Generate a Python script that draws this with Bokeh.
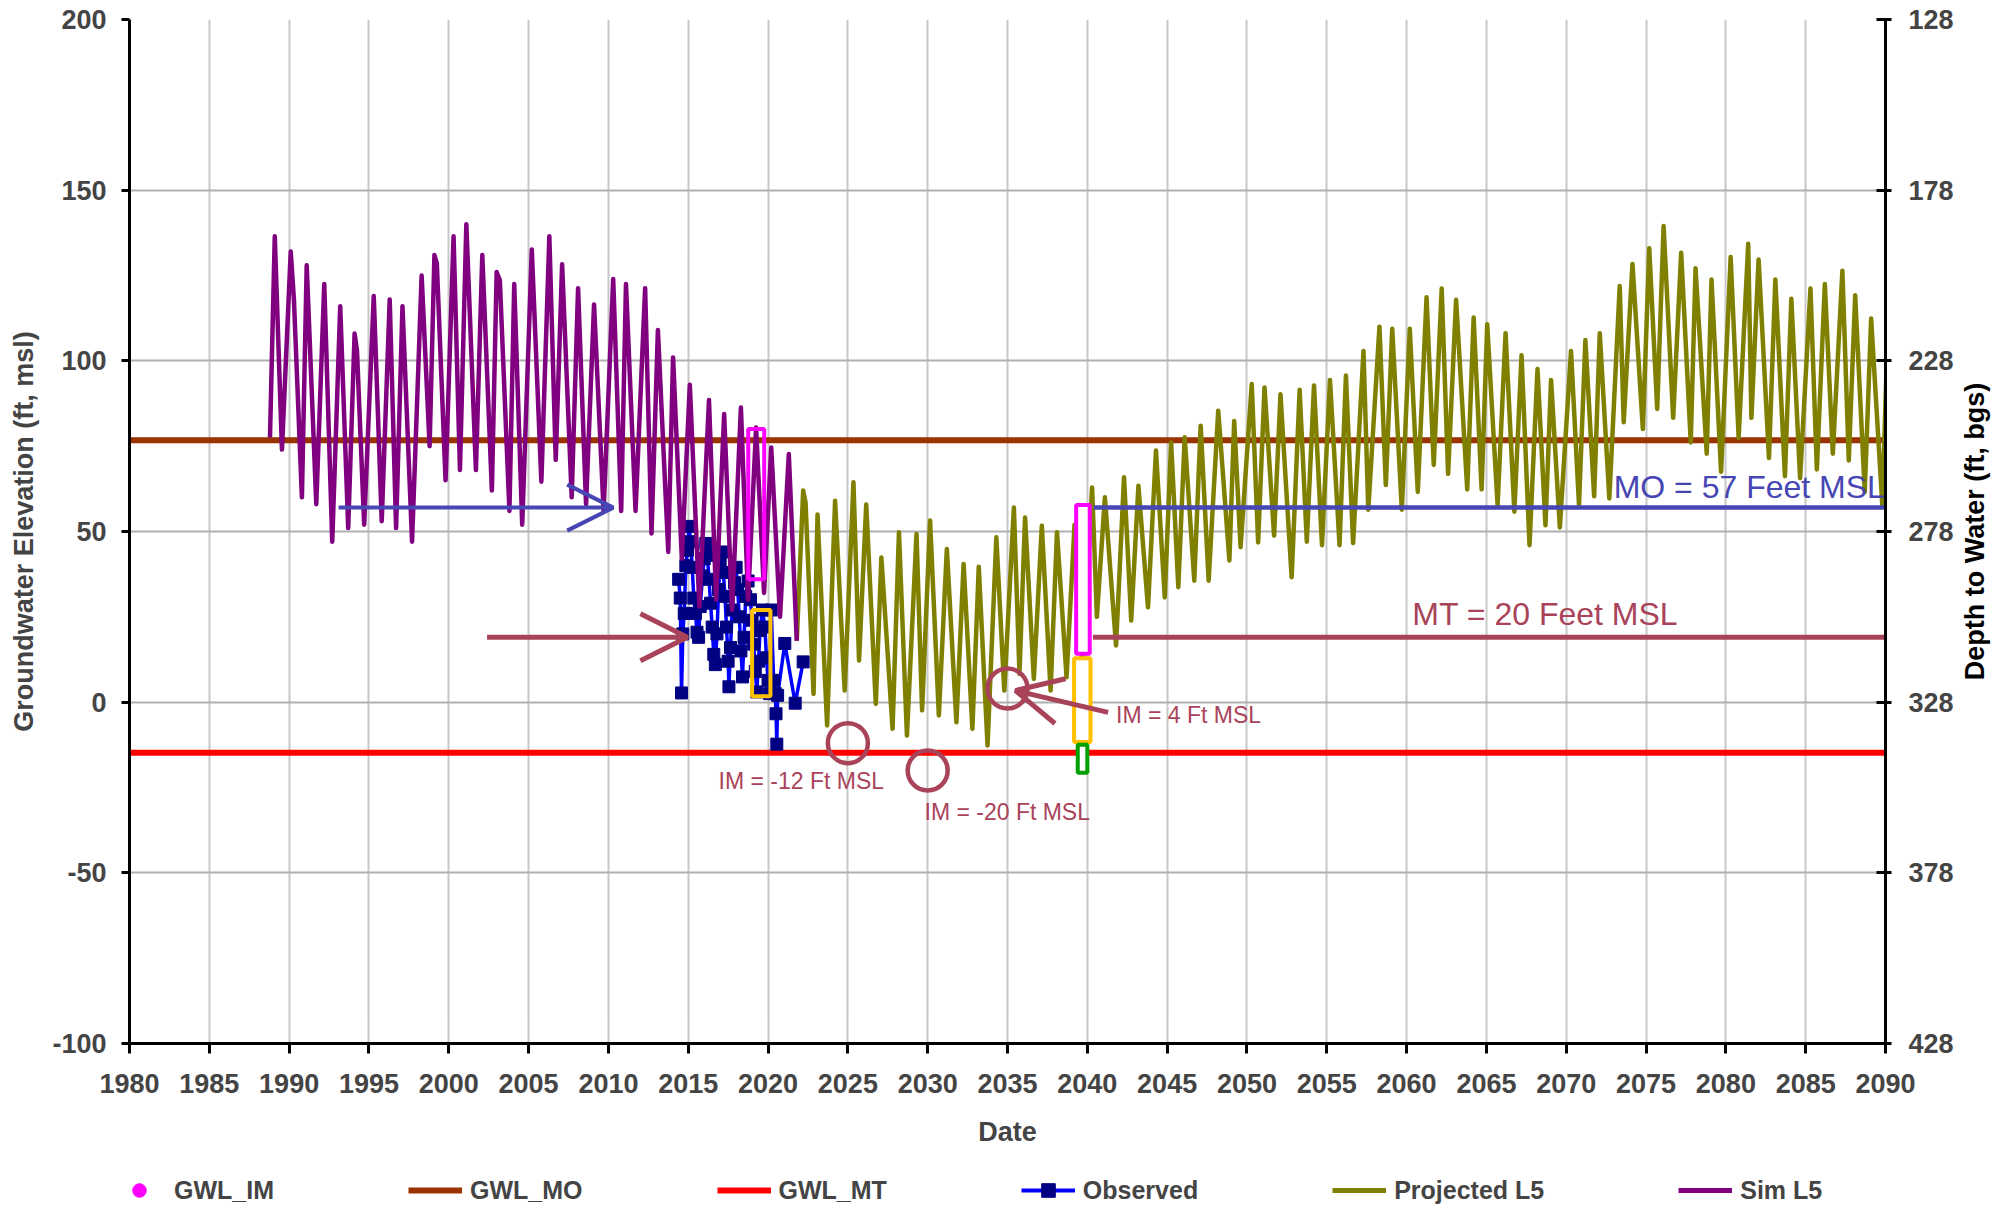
import math
from bokeh.plotting import figure
from bokeh.layouts import row, column
from bokeh.models import (Range1d, LinearAxis, FixedTicker, Legend, LegendItem,
                          Label, Arrow, OpenHead)
from bokeh.embed import file_html
from bokeh.resources import INLINE

# ---------------- data ----------------
sim_dates = [1988.8, 1989.1, 1989.55, 1990.1, 1990.3, 1990.8, 1991.1, 1991.7, 1992.2, 1992.7,
             1993.2, 1993.7, 1994.1, 1994.25, 1994.7, 1995.3, 1995.8, 1996.3, 1996.7, 1997.1,
             1997.7, 1998.3, 1998.8, 1999.1, 1999.25, 1999.8, 2000.3, 2000.7, 2001.1, 2001.7,
             2002.1, 2002.7, 2003.0, 2003.2, 2003.8, 2004.1, 2004.6, 2005.2, 2005.8, 2006.3,
             2006.7, 2007.1, 2007.7, 2008.1, 2008.6, 2009.1, 2009.7, 2010.3, 2010.8, 2011.1,
             2011.7, 2012.3, 2012.7, 2013.1, 2013.75, 2014.05, 2014.6, 2015.1, 2015.7, 2016.3,
             2016.75, 2017.25, 2017.75, 2018.3, 2018.75, 2019.25, 2019.75, 2020.2, 2020.75, 2021.3,
             2021.8]
sim_vals = [77.5, 136.5, 74, 132, 118, 60, 128, 58, 122.5, 47,
            116, 51, 108, 103, 52, 119, 53, 118, 51, 116,
            47, 125, 75, 131, 128.6, 65, 136.5, 68, 140, 68,
            131, 62, 126, 123.6, 56, 122.5, 52, 132.6, 64.6, 136.5,
            71, 128.3, 60, 121.3, 58, 116.5, 56, 124, 56, 122.5,
            56, 121.3, 49.4, 109, 44, 101, 42, 93, 28, 88.5,
            30, 84.4, 27, 86.3, 30, 80.5, 32, 74.6, 25, 72.7,
            18]

proj_dates = [2021.8, 2022.2, 2022.35, 2022.85, 2023.1, 2023.7, 2024.2, 2024.8, 2025.35, 2025.7,
              2026.15, 2026.75, 2027.1, 2027.8, 2028.2, 2028.7, 2029.3, 2029.65, 2030.15, 2030.7,
              2031.2, 2031.8, 2032.25, 2032.8, 2033.2, 2033.75, 2034.3, 2034.8, 2035.4, 2035.75,
              2036.1, 2036.65, 2037.15, 2037.7, 2038.1, 2038.7, 2039.2, 2039.7, 2040.3, 2040.6,
              2041.1, 2041.8, 2042.3, 2042.75, 2043.2, 2043.8, 2044.3, 2044.85, 2045.25, 2045.7,
              2046.1, 2046.7, 2047.1, 2047.6, 2048.2, 2048.9, 2049.2, 2049.6, 2050.3, 2050.7,
              2051.1, 2051.7, 2052.1, 2052.8, 2053.3, 2053.75, 2054.2, 2054.7, 2055.2, 2055.8,
              2056.2, 2056.65, 2057.3, 2057.6, 2058.3, 2058.7, 2059.1, 2059.7, 2060.2, 2060.7,
              2061.25, 2061.7, 2062.2, 2062.6, 2063.1, 2063.8, 2064.2, 2064.7, 2065.05, 2065.7,
              2066.2, 2066.75, 2067.2, 2067.7, 2068.2, 2068.7, 2069.05, 2069.6, 2070.3, 2070.8,
              2071.2, 2071.75, 2072.1, 2072.7, 2073.35, 2073.6, 2074.15, 2074.8, 2075.2, 2075.7,
              2076.1, 2076.7, 2077.2, 2077.8, 2078.1, 2078.8, 2079.1, 2079.7, 2080.3, 2080.8,
              2081.4, 2081.6, 2082.05, 2082.7, 2083.1, 2083.7, 2084.1, 2084.65, 2085.3, 2085.7,
              2086.2, 2086.7, 2087.3, 2087.7, 2088.1, 2088.7, 2089.1, 2089.8, 2090.05]
proj_vals = [18, 62, 58.5, 2.4, 55, -6.8, 59, 3.4, 64.4, 12.2,
             57.9, -0.5, 42.4, -7.8, 49.8, -9.8, 49.3, -2.4, 53.2, -3.9,
             44.9, -5.9, 40.5, -7.8, 39.7, -12.7, 48.3, 3.4, 57, 8.3,
             54.1, 6.8, 51.7, 3.4, 49.8, 7.3, 52, 10, 62.9, 25,
             60, 16.6, 65.9, 23.9, 63.4, 27.8, 73.7, 30.7, 76.1, 33.7,
             77.6, 35.6, 81, 35.6, 85.4, 41.5, 82.4, 45.4, 93.2, 46.8,
             92.2, 48.8, 90.2, 36.6, 91.5, 47, 92.8, 46, 94.4, 46,
             95.7, 46.6, 102.9, 56.4, 110, 63.6, 109.4, 56.4, 109.4, 61.6,
             118.6, 69.5, 121.2, 66.9, 117.9, 62.3, 112.7, 62.3, 110.7, 57.7,
             108.1, 55.8, 101.6, 46, 97.6, 51.8, 94.4, 51.2, 102.9, 57.7,
             106.1, 60.3, 108.1, 59.7, 121.9, 82, 128.4, 80, 133, 85.9,
             139.5, 83.3, 131.7, 76.1, 127.1, 72.8, 123.8, 67.5, 130.4, 77.4,
             134.3, 83.3, 129.7, 71.5, 123.8, 66.2, 118.2, 65.6, 121.2, 68.2,
             122.5, 72.8, 126.4, 70.8, 119.2, 61.6, 112.4, 57.7, 95]

obs_dates = [2014.40, 2014.50, 2014.58, 2014.66, 2014.75, 2014.85, 2014.95, 2015.05, 2015.15, 2015.25,
             2015.35, 2015.45, 2015.55, 2015.65, 2015.75, 2015.90, 2016.00, 2016.10, 2016.20, 2016.30,
             2016.40, 2016.50, 2016.60, 2016.70, 2016.80, 2016.90, 2017.00, 2017.10, 2017.20, 2017.30,
             2017.40, 2017.50, 2017.55, 2017.65, 2017.75, 2017.90, 2018.00, 2018.10, 2018.20, 2018.30,
             2018.40, 2018.50, 2018.60, 2018.75, 2018.90, 2019.00, 2019.10, 2019.20, 2019.30, 2019.40,
             2019.50, 2019.65, 2019.80, 2019.90, 2020.00, 2020.10, 2020.20, 2020.35, 2020.45, 2020.50,
             2020.55, 2020.60, 2021.05, 2021.70, 2022.20]
obs_vals = [36.0, 30.5, 2.7, 20.0, 26.0, 40.0, 44.5, 51.5, 47.0, 39.5,
            30.5, 26.0, 20.5, 19.0, 28.0, 37.0, 42.0, 46.5, 43.0, 36.0,
            29.0, 22.0, 14.0, 11.0, 20.0, 33.0, 41.0, 44.0, 38.0, 31.0,
            22.0, 12.0, 4.5, 16.0, 27.0, 35.0, 39.5, 33.0, 25.0, 15.0,
            7.4, 19.0, 31.0, 35.5, 30.0, 24.0, 17.0, 9.0, 3.0, 12.0,
            21.0, 27.0, 22.0, 13.0, 6.4, 2.5, 27.0, 6.4, 2.5, -3.4,
            -12.3, 2.0, 17.2, -0.3, 11.8]

gwl_dates = [1979.0, 2091.0]
gwl_mo = [76.7, 76.7]
gwl_mt = [-14.8, -14.8]

x_ticks = [1980, 1985, 1990, 1995, 2000, 2005, 2010, 2015, 2020, 2025, 2030, 2035,
           2040, 2045, 2050, 2055, 2060, 2065, 2070, 2075, 2080, 2085, 2090]
y_ticks = [-100, -50, 0, 50, 100, 150, 200]
depth_ticks = [128, 178, 228, 278, 328, 378, 428]

legend_labels = ["GWL_IM", "GWL_MO", "GWL_MT", "Observed", "Projected L5", "Sim L5"]

# annotation data
mo_line_x = [2040.4, 2091.0]
mo_line_y = [57, 57]
mt_line_x = [2040.35, 2091.0]
mt_line_y = [19, 19]
rect_left = [2018.76, 2019.0, 2039.3, 2039.17, 2039.4]
rect_right = [2019.76, 2020.15, 2040.15, 2040.2, 2040.0]
rect_bottom = [36, 1.7, 14.2, -11.7, -20.7]
rect_top = [80, 27, 57.8, 12.9, -12.5]
rect_colors = ["#FF00FF", "#FFC000", "#FF00FF", "#FFC000", "#00A000"]
rect_fill = [None, None, "white", "white", "white"]
im_x = [2025, 2030, 2035]
im_y = [-12, -20, 4]
im_text = ["IM = -12 Ft MSL", "IM = -20 Ft MSL", "IM = 4 Ft MSL"]
im_text_x = [2016.9, 2029.8, 2041.8]
im_text_y = [-23.0, -32.2, -3.9]

FONT = "Liberation Sans"
MAROON = "#A9435A"
BLUE_ANN = "#4646B4"
C_IM, C_MO, C_MT = "#FF00FF", "#993300", "#FF0000"
C_OBS_L, C_OBS_M, C_PROJ, C_SIM = "#0000FF", "#000080", "#808000", "#800080"

# ---------------- main chart ----------------
p = figure(width=1956, height=1163, output_backend="svg", toolbar_location=None,
           x_range=Range1d(1980, 2090), y_range=Range1d(-100, 200),
           min_border_left=129, min_border_right=70, min_border_top=19, min_border_bottom=120)
p.outline_line_color = None
p.background_fill_color = "white"
p.border_fill_color = "white"
p.extra_y_ranges = {"depth": Range1d(428, 128)}

for ax in (p.xaxis[0], p.yaxis[0]):
    ax.axis_line_width = 3
    ax.axis_line_color = "black"
    ax.major_tick_line_width = 3
    ax.major_tick_in = 0
    ax.minor_tick_line_color = None
    ax.major_label_text_font = FONT
    ax.major_label_text_font_style = "bold"
    ax.major_label_text_font_size = "27px"
    ax.axis_label_text_font = FONT
    ax.axis_label_text_font_style = "bold"
    ax.axis_label_text_font_size = "27px"
p.xaxis[0].ticker = FixedTicker(ticks=x_ticks)
p.xaxis[0].major_tick_out = 10
p.xaxis[0].major_label_standoff = 20
p.xaxis[0].axis_label = "Date"
p.xaxis[0].axis_label_standoff = 21
p.yaxis[0].ticker = FixedTicker(ticks=y_ticks)
p.yaxis[0].major_label_overrides = {t: str(t) for t in y_ticks}
p.yaxis[0].major_tick_out = 8
p.yaxis[0].major_label_standoff = 15
p.yaxis[0].axis_label = "Groundwater Elevation (ft, msl)"
p.yaxis[0].axis_label_standoff = 10

ra = LinearAxis(y_range_name="depth", ticker=FixedTicker(ticks=depth_ticks))
ra.axis_line_width = 3
ra.major_tick_line_width = 3
ra.major_tick_in = 9
ra.major_tick_out = 6
ra.minor_tick_line_color = None
ra.major_label_standoff = 17
ra.major_label_text_font = FONT
ra.major_label_text_font_style = "bold"
ra.major_label_text_font_size = "27px"
p.add_layout(ra, "right")

p.xgrid.grid_line_color = "#C8C8C8"
p.xgrid.grid_line_width = 2
p.ygrid.grid_line_color = "#B0B0B0"
p.ygrid.grid_line_width = 2

p.line(gwl_dates, gwl_mo, line_color=C_MO, line_width=6)
p.line(gwl_dates, gwl_mt, line_color=C_MT, line_width=6)
p.line(obs_dates, obs_vals, line_color=C_OBS_L, line_width=3.5, line_join="round")
p.scatter(obs_dates, obs_vals, marker="square", size=12, fill_color=C_OBS_M, line_color=C_OBS_M)
p.line(proj_dates, proj_vals, line_color=C_PROJ, line_width=4.5, line_join="round")
p.line(sim_dates, sim_vals, line_color=C_SIM, line_width=4.5, line_join="round")

# annotations
p.line(mo_line_x, mo_line_y, line_color=BLUE_ANN, line_width=4.5)
p.line(mt_line_x, mt_line_y, line_color=MAROON, line_width=5)
p.quad(left=rect_left, right=rect_right, bottom=rect_bottom, top=rect_top,
       line_color=rect_colors, fill_color=rect_fill, line_width=4)
p.scatter(im_x, im_y, marker="circle", size=40, fill_color=None, line_color=MAROON, line_width=4.5)

p.add_layout(Arrow(end=OpenHead(size=46, line_color=BLUE_ANN, line_width=4),
                   x_start=1993.1, y_start=57, x_end=2010.3, y_end=57,
                   line_color=BLUE_ANN, line_width=4))
p.add_layout(Arrow(end=OpenHead(size=47, line_color=MAROON, line_width=5),
                   x_start=2002.4, y_start=19, x_end=2014.95, y_end=19,
                   line_color=MAROON, line_width=5))
p.add_layout(Arrow(end=OpenHead(size=46, line_color=MAROON, line_width=5),
                   x_start=2041.3, y_start=-3.0, x_end=2035.5, y_end=3.4,
                   line_color=MAROON, line_width=5))

for t, tx, ty in zip(im_text, im_text_x, im_text_y):
    p.add_layout(Label(x=tx, y=ty, text=t, text_align="left", text_baseline="middle",
                       text_font=FONT, text_font_size="23px", text_color=MAROON))
p.add_layout(Label(x=2060.36, y=25.7, text="MT = 20 Feet MSL", text_align="left",
                   text_baseline="middle", text_font=FONT, text_font_size="32px", text_color=MAROON))
p.add_layout(Label(x=2072.97, y=63.0, text="MO = 57 Feet MSL", text_align="left",
                   text_baseline="middle", text_font=FONT, text_font_size="32px", text_color=BLUE_ANN))


def blank(w, h):
    f = figure(width=w, height=h, output_backend="svg", toolbar_location=None,
               x_range=Range1d(0, 1), y_range=Range1d(0, 1),
               x_axis_location=None, y_axis_location=None, min_border=0)
    f.min_border_left = f.min_border_right = f.min_border_top = f.min_border_bottom = 0
    f.grid.visible = False
    f.outline_line_color = None
    f.background_fill_color = "white"
    f.border_fill_color = "white"
    return f


# ---------------- legend strip (its sample glyphs sit outside the visible range) ----------------
lf = blank(1956, 41)
off_x, off_y = [5, 6], [5, 5]
l_im = lf.scatter(x=off_x, y=off_y, marker="circle", size=15, fill_color=C_IM, line_color=C_IM)
l_mo = lf.line(x=off_x, y=off_y, line_color=C_MO, line_width=6)
l_mt = lf.line(x=off_x, y=off_y, line_color=C_MT, line_width=6)
l_obs_l = lf.line(x=off_x, y=off_y, line_color=C_OBS_L, line_width=4)
l_obs_m = lf.scatter(x=off_x, y=off_y, marker="square", size=12, fill_color=C_OBS_M,
                     line_color=C_OBS_M)
l_proj = lf.line(x=off_x, y=off_y, line_color=C_PROJ, line_width=5)
l_sim = lf.line(x=off_x, y=off_y, line_color=C_SIM, line_width=5)
legend_renderers = [[l_im], [l_mo], [l_mt], [l_obs_l, l_obs_m], [l_proj], [l_sim]]
legend = Legend(items=[LegendItem(label=lab, renderers=rs, index=0)
                       for lab, rs in zip(legend_labels, legend_renderers)],
                orientation="horizontal", location=(-17, -3), padding=0, margin=0, spacing=134,
                glyph_width=54, glyph_height=34, label_standoff=8, border_line_color=None,
                background_fill_alpha=0, label_text_font=FONT, label_text_font_style="bold",
                label_text_font_size="25px", label_text_baseline="middle")
lf.add_layout(legend, "center")

# ---------------- right axis title strip ----------------
tf = blank(44, 1204)
tf.add_layout(Label(x=18, y=673, x_units="screen", y_units="screen",
                    text="Depth to Water (ft, bgs)", angle=math.pi / 2,
                    text_align="center", text_baseline="middle", text_font=FONT,
                    text_font_style="bold", text_font_size="27px", text_color="black"))

layout = row(column(p, lf), tf)
open("out.html", "w").write(file_html(layout, INLINE))
